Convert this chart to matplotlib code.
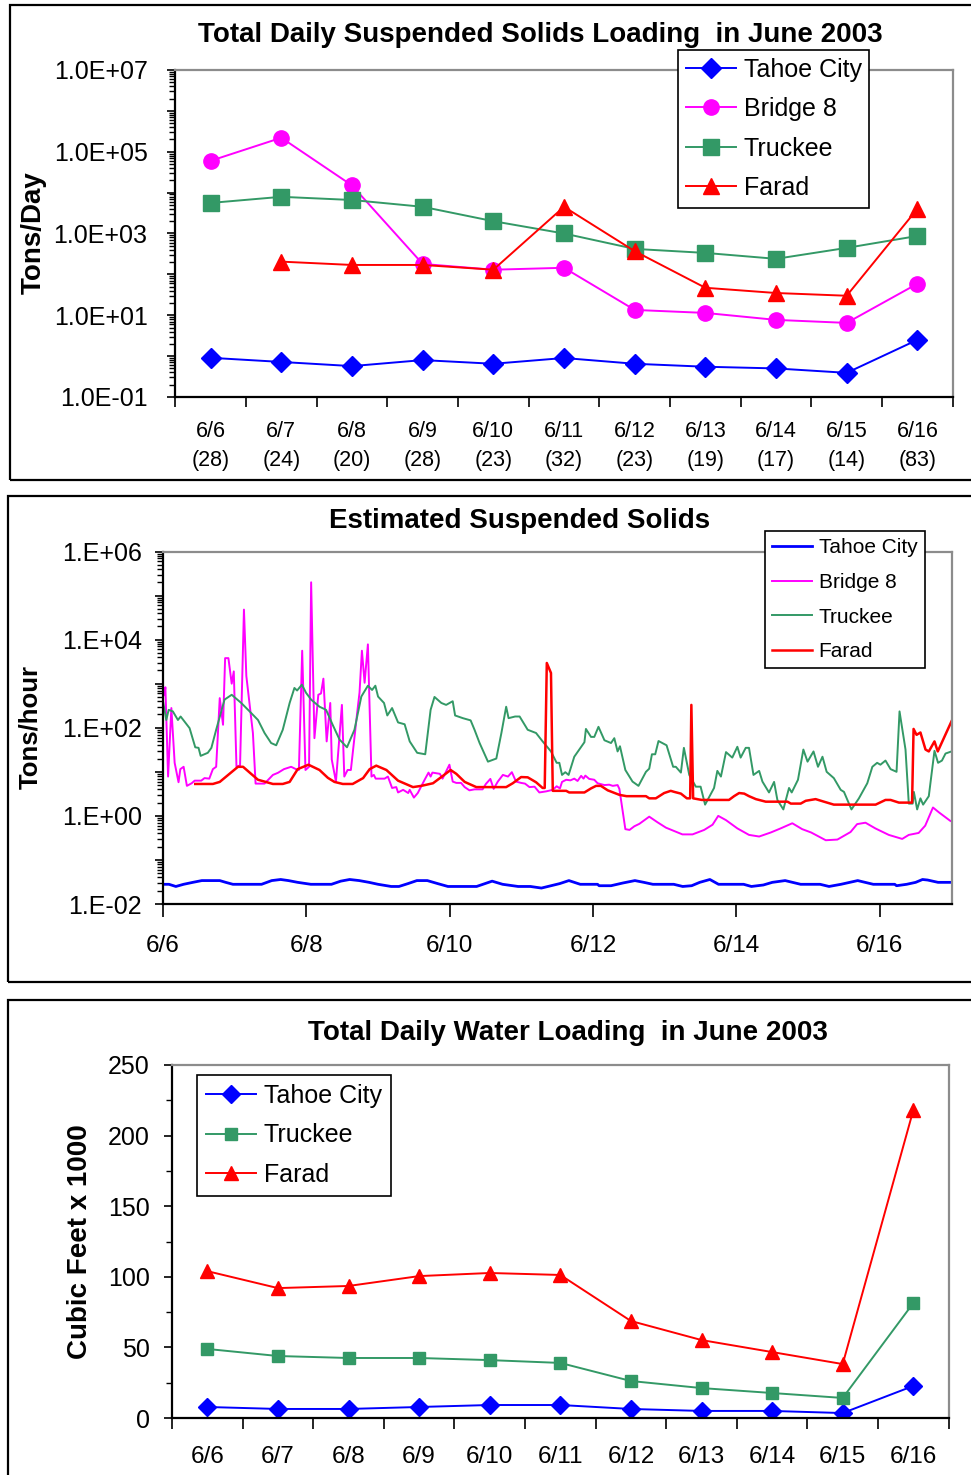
import numpy as np
import matplotlib
matplotlib.use("Agg")
import matplotlib.pyplot as plt
from matplotlib.patches import Rectangle
from matplotlib.ticker import FixedLocator, LogLocator, NullFormatter, FuncFormatter

plt.rcParams['font.family'] = ['Liberation Sans', 'DejaVu Sans']

# ---------------- data ----------------
days = ['6/6', '6/7', '6/8', '6/9', '6/10', '6/11', '6/12', '6/13', '6/14', '6/15', '6/16']
samples = ['(28)', '(24)', '(20)', '(28)', '(23)', '(32)', '(23)', '(19)', '(17)', '(14)', '(83)']

# daily suspended solids, tons/day
ss_tahoe = [0.91, 0.72, 0.57, 0.80, 0.65, 0.90, 0.65, 0.55, 0.50, 0.39, 2.5]
ss_bridge8 = [6.0e4, 2.2e5, 1.5e4, 180, 130, 145, 13.5, 11.4, 7.7, 6.5, 59]
ss_truckee = [5600, 7900, 6600, 4500, 2000, 1000, 420, 335, 240, 445, 870]
ss_farad = [np.nan, 205, 170, 170, 130, 4500, 370, 47, 35, 30, 4000]

# daily water loading, cubic feet x 1000
wl_tahoe = [7.8, 6.4, 6.4, 7.8, 9.2, 9.2, 6.4, 5.0, 5.0, 3.5, 22.7]
wl_truckee = [48.9, 43.9, 42.5, 42.5, 41.0, 39.0, 26.2, 21.2, 17.7, 14.2, 81.4]
wl_farad = [104, 92, 93.5, 100.5, 102.7, 101.3, 68.7, 55.2, 46.7, 38.2, 218]

# hourly estimated suspended solids (hours after 6/6 00:00, tons/hour)
hourly_tahoe = [
    (0, 0.028), (2, 0.028), (4.3, 0.025), (6.9, 0.028), (10, 0.031), (13, 0.034),
    (19, 0.034), (21, 0.031), (23.4, 0.028), (33, 0.028), (36.4, 0.034), (39.4, 0.036),
    (42, 0.034), (45.1, 0.031), (49.5, 0.028), (56.4, 0.028), (59.5, 0.033), (62.5, 0.036),
    (65.7, 0.034), (69, 0.031), (72, 0.028), (76.4, 0.025), (79, 0.025), (82, 0.029),
    (85, 0.034), (88.5, 0.034), (92, 0.029), (95.4, 0.025), (105, 0.025), (110.2, 0.033),
    (113.7, 0.028), (118.9, 0.025), (123, 0.025), (126.7, 0.023), (132.8, 0.029),
    (135.9, 0.034), (139.7, 0.028), (145.5, 0.028), (146, 0.026), (150, 0.026), (154, 0.030),
    (158, 0.034), (161, 0.031), (164, 0.028), (171, 0.028), (174, 0.025), (177, 0.026),
    (179.7, 0.031), (183.1, 0.036), (186, 0.028), (194.4, 0.028), (197, 0.025), (201, 0.027),
    (204, 0.031), (208.3, 0.034), (213.5, 0.028), (220, 0.028), (223, 0.025), (227, 0.028),
    (232.6, 0.034), (237.8, 0.028), (245, 0.028), (245.6, 0.026), (249, 0.028), (252, 0.031),
    (254.3, 0.036), (256, 0.035), (259.5, 0.031), (264, 0.031),
]

hourly_bridge8 = [
    (0, 510), (0.5, 600), (0.8, 830), (1.7, 7.8), (2.8, 280), (3.9, 16), (5.2, 5.8),
    (5.8, 11.5), (6.9, 13), (8.0, 4.8), (9.6, 5.5), (10.6, 6.3), (12.8, 6.3), (13.9, 7.2),
    (15.5, 7.0), (16.7, 11.5), (17.8, 13), (19.0, 470), (20.1, 117), (20.8, 3800),
    (21.9, 3800), (23.0, 1000), (23.7, 1900), (24.6, 13), (25.8, 14), (27.1, 48000),
    (27.9, 1500), (30.1, 76), (31.0, 5.4), (34.0, 5.4), (36.8, 8.5), (38.5, 9.5),
    (40.5, 11.5), (42.9, 13), (44.5, 11.5), (45.5, 11), (46.6, 5600), (47.7, 11), (48.9, 13),
    (49.6, 200000), (50.7, 58), (52.0, 560), (52.9, 600), (53.7, 1300), (54.8, 49),
    (56.0, 365), (56.5, 19), (57.9, 6), (59.9, 330), (60.7, 7.8), (61.8, 11), (62.9, 11),
    (65.0, 215), (65.8, 630), (66.6, 5600), (67.5, 1050), (68.6, 7800), (69.8, 7.8),
    (70.6, 8.5), (71.2, 7.0), (74.2, 7.0), (75.3, 7.8), (76.7, 4.3), (78.1, 4.5), (78.7, 3.4),
    (80.4, 3.9), (82.1, 3.3), (82.6, 3.9), (84.0, 2.6), (85.3, 3.3), (87.6, 6.6), (88.9, 9.6),
    (89.6, 7.8), (90.2, 9.6), (92.7, 9.0), (93.6, 7.0), (95.9, 14.5), (97.0, 6.0), (98.2, 5.6),
    (99.8, 5.6), (101.0, 4.5), (102.6, 3.8), (104.3, 4.0), (107.0, 4.0), (108.1, 5.3),
    (109.6, 6.9), (110.7, 4.1), (112.1, 6.0), (113.8, 8.5), (115.5, 7.8), (116.8, 9.8),
    (118.2, 6.0), (119.9, 5.6), (121.2, 5.4), (122.7, 4.5), (124.4, 4.6), (126.0, 3.4),
    (128.3, 3.6), (130.5, 3.9), (131.8, 4.7), (132.9, 4.2), (133.6, 5.9), (135.0, 6.6),
    (136.4, 6.4), (137.7, 7.0), (138.8, 6.2), (140.0, 8.1), (140.8, 7.0), (141.4, 8.2),
    (142.7, 6.9), (144.4, 6.6), (145.5, 5.5), (147.8, 5.0), (149.4, 5.1), (150.6, 4.8),
    (152.2, 5.0), (152.8, 4.1), (154.8, 0.50), (156.2, 0.48), (157.8, 0.58), (159.5, 0.66),
    (162.8, 0.96), (165.5, 0.72), (168.4, 0.54), (173.9, 0.38), (177.3, 0.38), (181.2, 0.48),
    (184.0, 0.63), (185.9, 1.0), (188.5, 0.80), (192.3, 0.52), (196.2, 0.37), (199.6, 0.34),
    (203.5, 0.42), (206.8, 0.52), (210.7, 0.68), (214.0, 0.50), (217.0, 0.42), (221.9, 0.28),
    (225.8, 0.29), (230.2, 0.43), (232.4, 0.65), (235.2, 0.70), (238.5, 0.52), (243.0, 0.37),
    (247.5, 0.30), (249.7, 0.37), (253.0, 0.41), (255.2, 0.60), (257.8, 1.55), (259.8, 1.2),
    (263.6, 0.77), (264, 0.75),
]

hourly_truckee = [
    (0, 400), (1.1, 150), (1.9, 255), (3.3, 235), (5, 150), (5.9, 180), (8.9, 98),
    (10.8, 36), (11.9, 35), (12.6, 23), (15, 27), (16.2, 35), (17.8, 90), (20.6, 435),
    (23, 560), (26.2, 365), (29, 235), (31.8, 150), (34, 76), (36.2, 45), (37.9, 40),
    (40.1, 90), (42.4, 365), (44, 800), (44.9, 700), (46.5, 950), (47.9, 620), (49.6, 435),
    (52.4, 300), (54.6, 255), (56.8, 117), (59.1, 54), (61.6, 36), (64.1, 90), (66.4, 510),
    (68.6, 900), (70, 720), (71.1, 900), (72, 510), (74, 365), (75.1, 190), (76.7, 280),
    (78.7, 132), (80.9, 120), (82.6, 49), (85.1, 27), (87.8, 25), (89.6, 255), (90.9, 500),
    (93.2, 365), (94.8, 330), (97, 400), (97.8, 190), (100.4, 165), (103, 147), (104.3, 90),
    (106, 45), (108.8, 17), (111.6, 20), (113.3, 76), (114.9, 300), (115.7, 165),
    (117.9, 180), (119.4, 180), (122.1, 90), (124.9, 76), (127.1, 49), (129.9, 29),
    (131.8, 16), (132.7, 16), (133.6, 8.5), (134.7, 9.8), (135.8, 8.5), (137.7, 22),
    (139.4, 32), (141.1, 47), (141.6, 94), (143.3, 62), (144.4, 62), (145.8, 105),
    (147.8, 52), (150, 45), (151.1, 58), (152.2, 29), (153, 38), (154.8, 11), (157.2, 6),
    (159.2, 4.8), (161.7, 10), (162.8, 11.8), (163.7, 25), (164.8, 25), (165.9, 50),
    (168.6, 40), (170.8, 13), (171.7, 13), (173.4, 9.6), (174.4, 35), (176.2, 8.5),
    (178.4, 4.6), (180, 4.6), (181.5, 1.8), (182.9, 2.7), (184.5, 4.3), (185.6, 10.5),
    (186.8, 7.8), (188.5, 28), (190.6, 21), (192.3, 37), (193.4, 21), (195.1, 35),
    (196.2, 35), (197.7, 8.5), (199.6, 10.5), (200.7, 6), (202.9, 3.4), (204.6, 5.9),
    (205.7, 2.3), (207.7, 1.4), (209.6, 4.3), (210.5, 3.4), (212.6, 6.6), (214.4, 32),
    (215.8, 17), (217.8, 29), (219.3, 13), (220.8, 22), (222.2, 10), (224.6, 7.2),
    (226.9, 3.9), (228, 3.5), (230.5, 1.4), (233, 2.5), (235.8, 5.5), (237.5, 13),
    (239.1, 16), (240.2, 14.5), (241.9, 18), (243.6, 11.5), (245.6, 10), (246.6, 235),
    (248.6, 32), (249.7, 1.9), (251, 1.9), (251.4, 3.5), (252.5, 1.4), (253.6, 2.5),
    (254.5, 1.8), (256.4, 2.8), (258.3, 30), (259.5, 16), (260.8, 18), (262, 26), (264, 29),
]

hourly_farad = [
    (10.8, 5.3), (16.7, 5.3), (19, 5.9), (25.1, 13), (26.8, 13), (29.5, 9), (31.8, 6.6),
    (34, 6.0), (36.8, 5.3), (40.1, 5.3), (42.4, 5.9), (45.1, 11.5), (48.7, 14.5), (52.4, 11),
    (55.2, 7.3), (57.4, 5.9), (60.2, 5.3), (63.5, 5.3), (67, 7.2), (69.2, 11.5), (71.4, 13.8),
    (74.8, 11), (78.7, 6.3), (83.7, 4.5), (86.5, 4.8), (90.4, 5.5), (93.4, 7.8), (96.3, 11),
    (98.2, 9), (101, 5.9), (104.9, 4.5), (114.9, 4.5), (117.1, 5.5), (119.9, 7.6),
    (122.1, 7.5), (124.9, 5.8), (127.1, 4.3), (127.8, 4.3), (128.5, 2950), (129.9, 1750),
    (130.5, 3.7), (135, 3.7), (136, 3.4), (141.1, 3.4), (143.3, 4.2), (145, 4.8),
    (146.6, 4.8), (148.9, 3.8), (152.8, 3.0), (155.2, 2.8), (161.7, 2.8), (162.8, 2.5),
    (165, 2.5), (167.8, 3.3), (170, 3.7), (171.2, 3.5), (173.4, 3.2), (175.4, 2.5),
    (176.5, 2.5), (176.9, 330), (177.5, 2.5), (180.4, 2.3), (182, 2.3), (189.5, 2.3),
    (191.2, 2.8), (192.9, 3.3), (194.6, 3.2), (196.2, 2.8), (197.9, 2.5), (198.5, 2.4),
    (201.8, 2.1), (209.1, 2.1), (210.2, 1.9), (213.5, 1.9), (215.2, 2.2), (218.5, 2.4),
    (221.3, 2.1), (224.6, 1.8), (238.6, 1.8), (241.9, 2.3), (243.6, 2.3), (246.4, 2.0),
    (250.8, 2.0), (251.3, 94), (252.3, 69), (253.6, 78), (255.3, 32), (256.4, 29),
    (258.3, 49), (259.4, 29), (264, 140),
]

hour_tick_labels = ['6/6', '6/8', '6/10', '6/12', '6/14', '6/16']

names4 = ['Tahoe City', 'Bridge 8', 'Truckee', 'Farad']
names3 = ['Tahoe City', 'Truckee', 'Farad']

# ---------------- styling ----------------
BLUE, MAGENTA, GREEN, RED = '#0000FF', '#FF00FF', '#339966', '#FF0000'
W, H = 971, 1475
fig = plt.figure(figsize=(W / 100, H / 100), dpi=100)


def fx(px):
    return px / W


def fy(py):
    return 1 - py / H


def add_axes(left, top, right, bottom):
    return fig.add_axes([fx(left), fy(bottom), (right - left) / W, (bottom - top) / H])


def style_spines(ax):
    for s in ('left', 'bottom'):
        ax.spines[s].set_color('black')
        ax.spines[s].set_linewidth(1.6)
    for s in ('top', 'right'):
        ax.spines[s].set_color('#8c8c8c')
        ax.spines[s].set_linewidth(1.6)


def frame(left, top, right, bottom):
    fig.add_artist(Rectangle((fx(left), fy(bottom)), (right - left) / W, (bottom - top) / H,
                             transform=fig.transFigure, fill=False, ec='black', lw=1.6))


def boxed_legend(ax, left, top, size, spacing, handle_len, pad):
    leg = ax.legend(loc='upper left', bbox_to_anchor=(fx(left), fy(top)),
                    bbox_transform=fig.transFigure, borderaxespad=0, fontsize=size,
                    frameon=True, fancybox=False, edgecolor='black', framealpha=1,
                    handlelength=handle_len, handletextpad=0.32, labelspacing=spacing,
                    borderpad=pad, numpoints=1)
    leg.get_frame().set_linewidth(1.2)
    return leg


frame(10, 5, 990, 480)
frame(8, 496, 990, 982)
frame(8, 1000, 990, 1500)

# ---------------- panel 1: daily suspended solids ----------------
ax1 = add_axes(175.3, 70, 952.7, 397)
x = np.arange(len(days))
ax1.plot(x, ss_tahoe, color=BLUE, marker='D', ms=10, lw=1.4, label=names4[0])
ax1.plot(x, ss_bridge8, color=MAGENTA, marker='o', ms=11, lw=1.4, label=names4[1])
ax1.plot(x, ss_truckee, color=GREEN, marker='s', ms=11, lw=1.4, label=names4[2])
ax1.plot(x, ss_farad, color=RED, marker='^', ms=12, lw=1.4, label=names4[3])
ax1.set_yscale('log')
ax1.set_ylim(1e-1, 1e7)
ax1.set_xlim(-0.5, len(days) - 0.5)
ax1.yaxis.set_major_locator(FixedLocator([10.0 ** e for e in range(-1, 8)]))
ax1.yaxis.set_major_formatter(FuncFormatter(
    lambda v, p: ('1.0E%+03d' % round(np.log10(v))) if round(np.log10(v)) % 2 == 1 else ''))
ax1.yaxis.set_minor_locator(LogLocator(base=10, subs=np.arange(2, 10), numticks=50))
ax1.yaxis.set_minor_formatter(NullFormatter())
ax1.set_xticks(np.arange(-0.5, len(days)), labels=[])
ax1.set_xticks(x, labels=[d + '\n' + s for d, s in zip(days, samples)], minor=True)
ax1.tick_params(axis='x', which='major', direction='out', length=7, width=1.2)
ax1.tick_params(axis='x', which='minor', length=0, pad=17, labelsize=15.5)
ax1.tick_params(axis='y', which='major', direction='out', length=6, width=1.2, pad=14,
                labelsize=18)
ax1.tick_params(axis='y', which='minor', direction='out', length=4, width=1.0)
for t in ax1.xaxis.get_minorticklabels():
    t.set_linespacing(1.55)
style_spines(ax1)
fig.text(fx(540), fy(35), 'Total Daily Suspended Solids Loading  in June 2003',
         ha='center', va='center', fontsize=20, fontweight='bold')
fig.text(fx(34), fy(233), 'Tons/Day', rotation=90, ha='center', va='center',
         fontsize=20, fontweight='bold')
boxed_legend(ax1, 678, 50, 18, 0.62, 2.0, 0.3)

# ---------------- panel 2: hourly estimated suspended solids ----------------
ax2 = add_axes(163, 551.5, 951.5, 904)
for series, col, lw, name in [(hourly_tahoe, BLUE, 2.0, names4[0]),
                              (hourly_bridge8, MAGENTA, 1.4, names4[1]),
                              (hourly_truckee, GREEN, 1.4, names4[2]),
                              (hourly_farad, RED, 1.8, names4[3])]:
    hx, hy = zip(*series)
    ax2.plot(hx, hy, color=col, lw=lw, label=name)
ax2.set_yscale('log')
ax2.set_ylim(1e-2, 1e6)
ax2.set_xlim(0, 264)
ax2.yaxis.set_major_locator(FixedLocator([10.0 ** e for e in range(-2, 7)]))
ax2.yaxis.set_major_formatter(FuncFormatter(
    lambda v, p: ('1.E%+03d' % round(np.log10(v))) if round(np.log10(v)) % 2 == 0 else ''))
ax2.yaxis.set_minor_locator(LogLocator(base=10, subs=np.arange(2, 10), numticks=50))
ax2.yaxis.set_minor_formatter(NullFormatter())
ax2.set_xticks(np.arange(0, 264, 48), labels=hour_tick_labels)
ax2.tick_params(axis='x', which='major', direction='out', length=9, width=1.2, pad=13,
                labelsize=17.5)
ax2.tick_params(axis='y', which='major', direction='out', length=6, width=1.2, pad=9,
                labelsize=18)
ax2.tick_params(axis='y', which='minor', direction='out', length=4, width=1.0)
style_spines(ax2)
fig.text(fx(520), fy(521), 'Estimated Suspended Solids', ha='center', va='center',
         fontsize=20, fontweight='bold')
fig.text(fx(30), fy(727), 'Tons/hour', rotation=90, ha='center', va='center',
         fontsize=18.5, fontweight='bold')
boxed_legend(ax2, 765, 531, 15, 0.75, 1.9, 0.35)

# ---------------- panel 3: daily water loading ----------------
ax3 = add_axes(172, 1065, 948.6, 1418)
ax3.plot(x, wl_tahoe, color=BLUE, marker='D', ms=9, lw=1.4, label=names3[0])
ax3.plot(x, wl_truckee, color=GREEN, marker='s', ms=9, lw=1.4, label=names3[1])
ax3.plot(x, wl_farad, color=RED, marker='^', ms=10.5, lw=1.4, label=names3[2])
ax3.set_ylim(0, 250)
ax3.set_xlim(-0.5, len(days) - 0.5)
ax3.set_yticks(np.arange(0, 251, 50))
ax3.set_yticks(np.arange(0, 251, 25), minor=True)
ax3.set_xticks(np.arange(-0.5, len(days)), labels=[])
ax3.set_xticks(x, labels=days, minor=True)
ax3.tick_params(axis='x', which='major', direction='out', length=8, width=1.2)
ax3.tick_params(axis='x', which='minor', length=0, pad=20, labelsize=17.5)
ax3.tick_params(axis='y', which='major', direction='out', length=6, width=1.2, pad=10,
                labelsize=18)
ax3.tick_params(axis='y', which='minor', direction='out', length=4, width=1.0)
style_spines(ax3)
fig.text(fx(568), fy(1033), 'Total Daily Water Loading  in June 2003', ha='center',
         va='center', fontsize=20, fontweight='bold')
fig.text(fx(80), fy(1242), 'Cubic Feet x 1000', rotation=90, ha='center', va='center',
         fontsize=20, fontweight='bold')
boxed_legend(ax3, 197, 1075, 18, 0.62, 2.0, 0.35)

fig.savefig('out.png', dpi=100)
